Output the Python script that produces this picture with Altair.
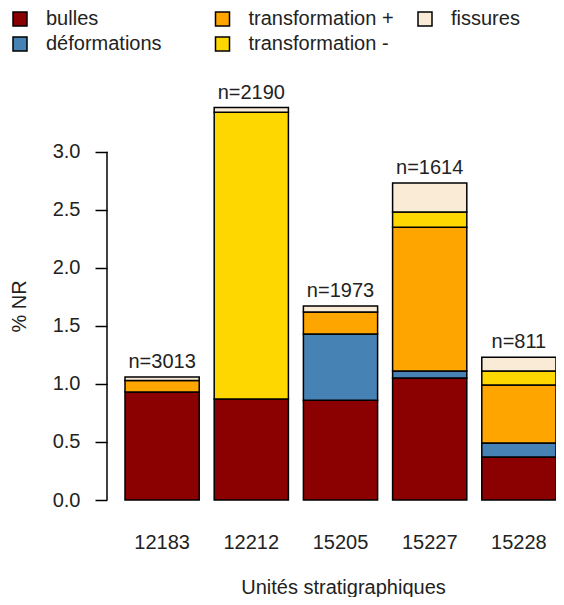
import altair as alt
import pandas as pd

# ---- data ----
units = ["12183", "12212", "15205", "15227", "15228"]
counts = [3013, 2190, 1973, 1614, 811]
bulles = [0.93, 0.87, 0.86, 1.05, 0.37]
deformations = [0.00, 0.00, 0.57, 0.06, 0.12]
transfo_plus = [0.10, 0.00, 0.19, 1.24, 0.50]
transfo_minus = [0.00, 2.47, 0.00, 0.13, 0.12]
fissures = [0.03, 0.04, 0.05, 0.25, 0.12]

categories = ["bulles", "déformations", "transformation +", "transformation -", "fissures"]
colors = ["#8B0000", "#4682B4", "#FFA500", "#FFD700", "#FAEBD7"]

series = [bulles, deformations, transfo_plus, transfo_minus, fissures]
rows = []
for ci, (cat, vals) in enumerate(zip(categories, series)):
    for u, v in zip(units, vals):
        if v > 0:
            rows.append({"us": u, "cat": cat, "ord": ci, "val": v})
df = pd.DataFrame(rows)

totals = [sum(s[i] for s in series) for i in range(len(units))]
tot = pd.DataFrame({"us": units, "total": totals, "lab": [f"n={k}" for k in counts]})
axis_line = pd.DataFrame({"a": [0.0], "b": [3.0]})

FONT = "Liberation Sans"
TXT = "#222222"
XT = "Unités stratigraphiques"
YT = "% NR"

xs = alt.Scale(domain=units, paddingInner=0.168, paddingOuter=0.1009, align=1)
ys = alt.Scale(domain=[0, 3.6], nice=False, zero=True)
color_scale = alt.Scale(domain=categories, range=colors)

bars = alt.Chart(df).mark_bar(stroke="black", strokeWidth=1.5).encode(
    x=alt.X("us:N", scale=xs, sort=units, title=XT,
            axis=alt.Axis(title=XT, labelAngle=0, ticks=False,
                          domain=False, grid=False, labelPadding=32, labelFontSize=20,
                          labelColor=TXT, labelFont=FONT,
                          titleFontSize=20, titleFontWeight="normal", titleColor=TXT,
                          titleFont=FONT, titleX=236, titleY=93,
                          titleBaseline="alphabetic", titleAlign="center")),
    y=alt.Y("val:Q", stack="zero", scale=ys, title=YT,
            axis=alt.Axis(title=YT, values=[0, 0.5, 1.0, 1.5, 2.0, 2.5, 3.0],
                          format=".1f", domain=False, grid=False, tickSize=12,
                          tickWidth=1.5, tickColor="black", labelFontSize=20,
                          labelPadding=15, labelColor=TXT, labelFont=FONT,
                          titleFontSize=20, titleFontWeight="normal", titleColor=TXT,
                          titleFont=FONT, titleX=-88, titleY=224, titleAngle=270,
                          titleBaseline="middle", titleAlign="center")),
    color=alt.Color("cat:N", scale=color_scale,
                    legend=alt.Legend(title=None, orient="none", legendX=-97, legendY=-73,
                                      columns=3, gridAlign="all", columnPadding=20.5,
                                      rowPadding=5, symbolType="square", symbolSize=196,
                                      symbolStrokeColor="black", symbolStrokeWidth=1.5,
                                      labelFontSize=20, labelOffset=16, labelFont=FONT,
                                      labelColor=TXT, labelLimit=300)),
    order=alt.Order("ord:Q", sort="ascending"),
)

labels = alt.Chart(tot).mark_text(dy=-9, baseline="alphabetic", fontSize=20,
                                  font=FONT, color=TXT).encode(
    x=alt.X("us:N", scale=xs, sort=units, title=XT),
    y=alt.Y("total:Q", scale=ys, title=YT),
    text="lab:N",
)

yline = alt.Chart(axis_line).mark_rule(stroke="black", strokeWidth=1.5).encode(
    y=alt.Y("a:Q", scale=ys, title=YT),
    y2="b:Q",
    x=alt.value(0),
)

chart = alt.layer(bars, labels, yline).properties(
    width=449, height=418, autosize="none",
    padding={"left": 99, "top": 74, "right": 0, "bottom": 97},
).configure(font=FONT).configure_view(stroke=None)

chart.save("out.html", embed_options={"renderer": "svg", "actions": False})
